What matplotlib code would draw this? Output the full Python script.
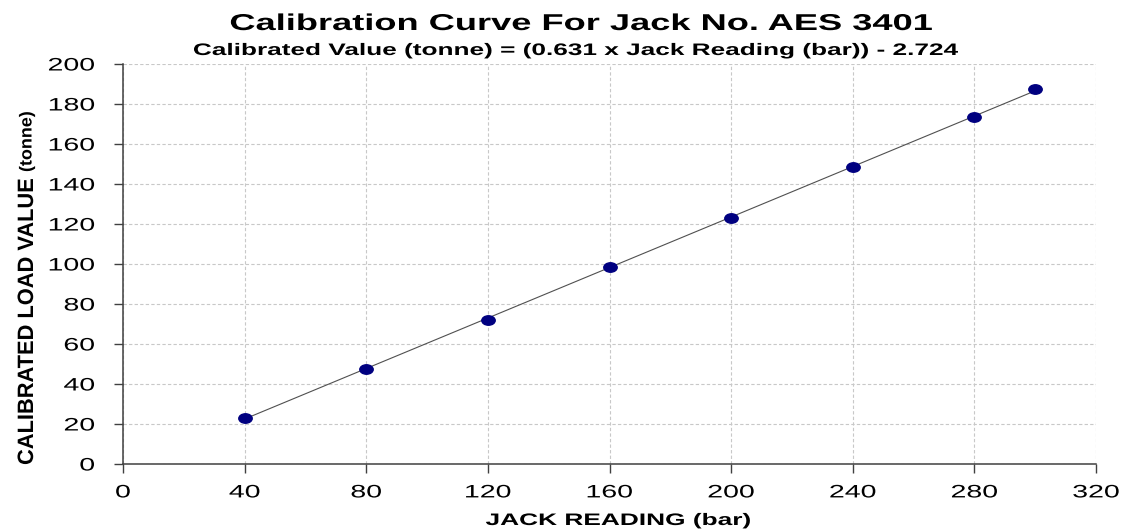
import matplotlib.pyplot as plt
from matplotlib.font_manager import FontProperties
from matplotlib.markers import MarkerStyle
from matplotlib.patheffects import AbstractPathEffect
from matplotlib.textpath import TextPath
from matplotlib.transforms import Affine2D

# Jack readings (bar) and calibrated loads (tonne)
jack_reading = [40, 80, 120, 160, 200, 240, 280, 300]
calibrated_load = [22.8, 47.5, 72.0, 98.5, 122.8, 148.7, 173.7, 187.3]

# trend line end points
fit_x = [40, 300]
fit_y = [22.5, 186.6]

x_ticks = [0, 40, 80, 120, 160, 200, 240, 280, 320]
y_ticks = [0, 20, 40, 60, 80, 100, 120, 140, 160, 180, 200]

W, H, DPI = 1125, 529, 100
FONT = "Liberation Sans"
plt.rcParams["font.family"] = [FONT, "DejaVu Sans"]


class Stretch(AbstractPathEffect):
    """Stretch text along its baseline (the source chart uses widened type)."""

    def __init__(self, sx, anchor="center"):
        super().__init__()
        self.sx = sx
        self.anchor = anchor

    def draw_path(self, renderer, gc, tpath, affine, rgbFace=None):
        ext = tpath.get_extents()
        x0 = {"left": ext.x0, "right": ext.x1}.get(self.anchor, (ext.x0 + ext.x1) / 2)
        st = Affine2D().translate(-x0, 0).scale(self.sx, 1).translate(x0, 0)
        renderer.draw_path(gc, tpath, st + affine, rgbFace)


def factor(s, size, target_px, weight="normal"):
    # ink width of the string at this size, in pixels
    tp = TextPath((0, 0), s, size=size * DPI / 72,
                  prop=FontProperties(family=FONT, weight=weight))
    return target_px / tp.get_extents().width


def fx(px):
    return px / W


def fy(px):
    return 1 - px / H


fig = plt.figure(figsize=(W / DPI, H / DPI), dpi=DPI)
ax = fig.add_axes([fx(123), fy(464), 973 / W, 400 / H])

ax.plot(fit_x, fit_y, color="#505050", lw=0.8, zorder=2)
ellipse = MarkerStyle("o", transform=Affine2D().scale(1.42, 1.0))
ax.plot(jack_reading, calibrated_load, ls="none", marker=ellipse, ms=6.8,
        color="#000080", mec="#000080", zorder=3)

ax.set_xlim(0, 320)
ax.set_ylim(0, 200)
ax.set_xticks(x_ticks)
ax.set_yticks(y_ticks)
ax.tick_params(labelsize=13, length=6.3, width=1, color="#404040")
ax.tick_params(axis="x", pad=8.4)
ax.tick_params(axis="y", pad=14)

tick_sx = factor("200", 13, 45)
for lbl in ax.get_xticklabels():
    lbl.set_path_effects([Stretch(tick_sx, "center")])
for lbl in ax.get_yticklabels():
    lbl.set_path_effects([Stretch(tick_sx, "right")])

ax.grid(True, color="#c8c8c8", ls=(0, (3, 2)), lw=0.8)
for s in ["top", "right"]:
    ax.spines[s].set_visible(False)
for s in ["left", "bottom"]:
    ax.spines[s].set_color("#404040")
    ax.spines[s].set_linewidth(1.1)

# titles
title = "Calibration Curve For Jack No. AES 3401"
fig.text(fx(580.5), fy(30), title, ha="center", va="baseline", fontsize=16.5,
         fontweight="bold",
         path_effects=[Stretch(factor(title, 16.5, 701, "bold"))])

subtitle = "Calibrated Value (tonne) = (0.631 x Jack Reading (bar)) - 2.724"
fig.text(fx(575), fy(55), subtitle, ha="center", va="baseline", fontsize=12,
         fontweight="bold",
         path_effects=[Stretch(factor(subtitle, 12, 764, "bold"))])

# axis labels
xlabel = "JACK READING (bar)"
fig.text(fx(618), fy(525), xlabel, ha="center", va="baseline", fontsize=12,
         fontweight="bold",
         path_effects=[Stretch(factor(xlabel, 12, 264, "bold"))])

ylabel = "CALIBRATED LOAD VALUE"
fig.text(fx(33), fy(465), ylabel, rotation=90, rotation_mode="anchor",
         ha="left", va="baseline", fontsize=16, fontweight="bold",
         path_effects=[Stretch(factor(ylabel, 16, 285, "bold"), "left")])

yunit = "(tonne)"
fig.text(fx(31.5), fy(172), yunit, rotation=90, rotation_mode="anchor",
         ha="left", va="baseline", fontsize=12.5, fontweight="bold",
         path_effects=[Stretch(factor(yunit, 12.5, 59, "bold"), "left")])

fig.savefig("out.png", dpi=DPI)
